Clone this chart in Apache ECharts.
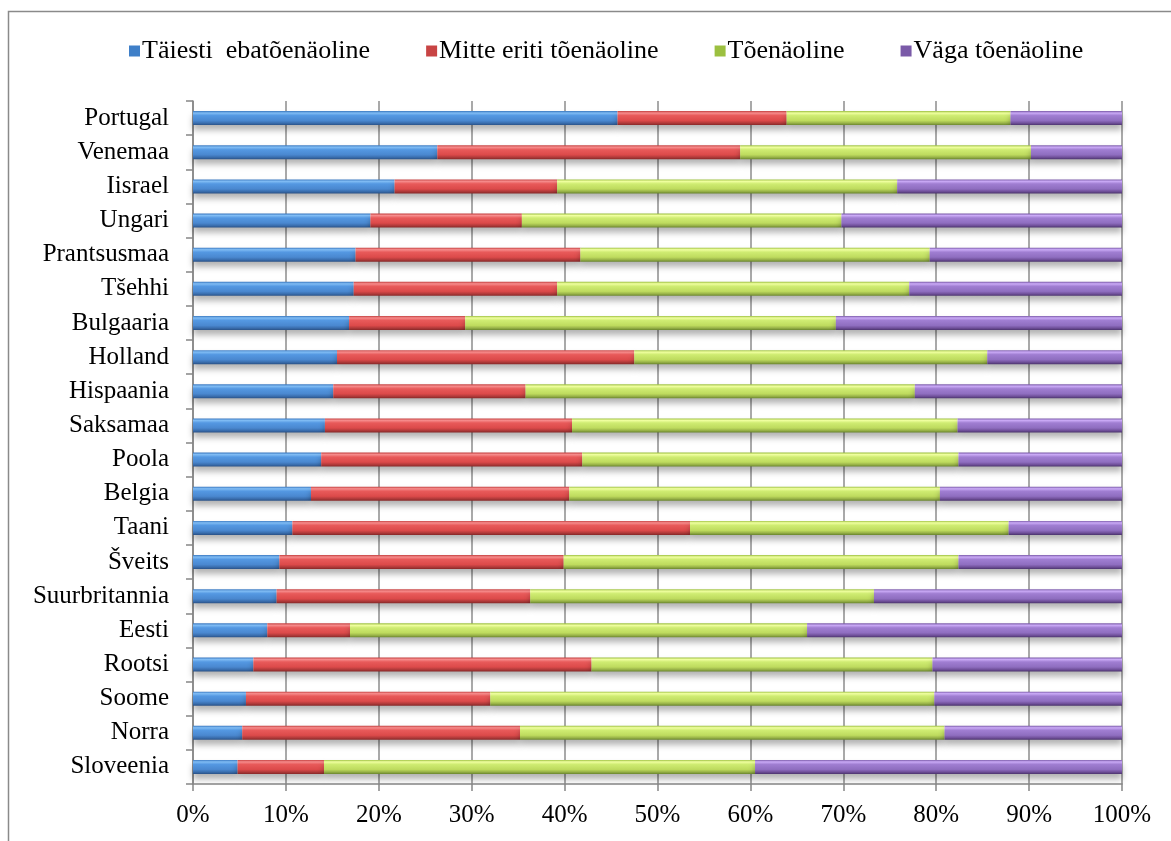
<!DOCTYPE html>
<html>
<head>
<meta charset="utf-8">
<script src="https://cdn.jsdelivr.net/npm/echarts@6/dist/echarts.min.js"></script>
<style>
html,body{margin:0;padding:0;background:#fff;}
#chart{width:1171px;height:841px;}
</style>
</head>
<body>
<div id="chart"></div>
<script>
// Categories, bottom to top
var countries = ["Sloveenia","Norra","Soome","Rootsi","Eesti","Suurbritannia","Šveits","Taani","Belgia","Poola","Saksamaa","Hispaania","Holland","Bulgaaria","Tšehhi","Prantsusmaa","Ungari","Iisrael","Venemaa","Portugal"];
var seriesNames = ["Täiesti  ebatõenäoline","Mitte eriti tõenäoline","Tõenäoline","Väga tõenäoline"];
var taiestiEbatoenaoline = [4.8,5.3,5.7,6.5,8.0,9.0,9.3,10.7,12.7,13.8,14.2,15.1,15.5,16.8,17.3,17.5,19.1,21.7,26.3,45.7];
var mitteEritiToenaoline = [9.3,29.9,26.3,36.4,8.9,27.3,30.6,42.8,27.8,28.1,26.6,20.7,32.0,12.5,21.9,24.2,16.3,17.5,32.6,18.2];
var toenaoline = [46.4,45.7,47.8,36.7,49.2,37.0,42.5,34.3,39.9,40.5,41.5,41.9,38.0,39.9,37.9,37.6,34.4,36.6,31.3,24.1];
var vagaToenaoline = [39.5,19.1,20.2,20.4,33.9,26.7,17.6,12.2,19.6,17.6,17.7,22.3,14.5,30.8,22.9,20.7,30.2,24.2,9.8,12.0];
var xTicks = [0,10,20,30,40,50,60,70,80,90,100];

var values = [taiestiEbatoenaoline, mitteEritiToenaoline, toenaoline, vagaToenaoline];
var palettes = [
  ['#3A78C0','#80BCF4','#5498E2','#4A88D0','#3A6EAE','#2A5288'],
  ['#C44040','#F68C8C','#E85A5A','#DC4A4A','#B03A3A','#872828'],
  ['#9CC040','#F0FFA0','#CFEC72','#BEDB5E','#98B248','#6A862E'],
  ['#7A5AA8','#CAAAF6','#A07ED2','#8F6EC0','#70509A','#4C346E']
];
var legendColors = ['#3F7FC8','#C84444','#9CC040','#7A5AA8'];
function grad(p){
  return new echarts.graphic.LinearGradient(0,0,0,1,[
    {offset:0,color:p[0]},{offset:0.14,color:p[1]},{offset:0.32,color:p[2]},
    {offset:0.68,color:p[3]},{offset:0.86,color:p[4]},{offset:1,color:p[5]}
  ]);
}
var font = '"Liberation Serif","Times New Roman",serif';
var series = values.map(function(v,i){
  return {
    name: seriesNames[i], type:'bar', stack:'total', data:v, barWidth:14,
    itemStyle:{color:grad(palettes[i]), shadowColor:'rgba(0,0,0,0.3)', shadowBlur:6, shadowOffsetY:5},
    emphasis:{disabled:true}
  };
});
var chart = echarts.init(document.getElementById('chart'));
chart.setOption({
  backgroundColor:'#fff',
  animation:false,
  color: legendColors,
  graphic:[{type:'rect', shape:{x:8.5,y:11.5,width:1200,height:900}, style:{fill:'none',stroke:'#8a8a8a',lineWidth:1.5}, silent:true, z:-1}],
  legend:{
    top:33, left:124, itemGap:56, itemWidth:11, itemHeight:11, icon:'rect',
    textStyle:{fontFamily:font, fontSize:26, color:'#000', padding:[0,0,0,-3]},
    data: seriesNames.map(function(n,i){return {name:n, itemStyle:{color:legendColors[i]}};})
  },
  grid:{left:193, right:49, top:101, bottom:57, containLabel:false},
  xAxis:{
    type:'value', min:0, max:100, interval:10,
    axisLine:{show:true, lineStyle:{color:'#868686', width:1.5}},
    axisTick:{show:true, length:7, lineStyle:{color:'#868686', width:1.5}},
    axisLabel:{formatter:function(v){return xTicks.indexOf(v)>=0? v+'%':'';}, fontFamily:font, fontSize:25, color:'#000', margin:19},
    splitLine:{show:true, lineStyle:{color:'#8c8c8c', width:1.5}}
  },
  yAxis:{
    type:'category', data:countries,
    axisLine:{show:true, lineStyle:{color:'#868686', width:1.5}},
    axisTick:{show:true, length:7, lineStyle:{color:'#868686', width:1.5}},
    axisLabel:{fontFamily:font, fontSize:25, color:'#000', margin:24}
  },
  series: series
});
</script>
</body>
</html>
